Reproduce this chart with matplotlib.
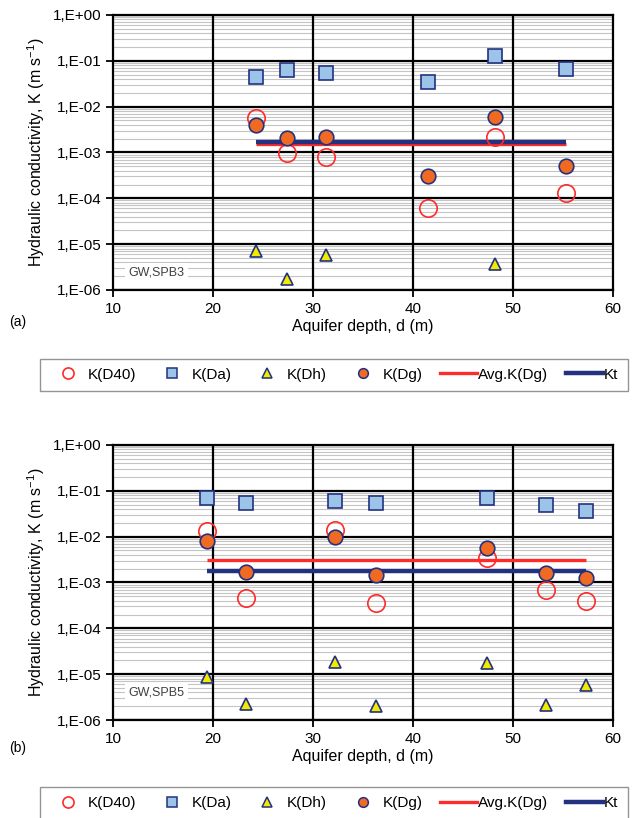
import numpy as np
import matplotlib
matplotlib.use("Agg")
import matplotlib.pyplot as plt
from matplotlib.ticker import FixedLocator, FuncFormatter, NullFormatter
from matplotlib.lines import Line2D

plt.rcParams['font.family'] = ['Liberation Sans', 'DejaVu Sans']

# ---- data ----
# (a) GW, SPB3
depth_a = [24.3, 27.4, 31.3, 41.5, 48.2, 55.3]
kd40_a = [5.6e-3, 9.9e-4, 8.0e-4, 6.2e-5, 2.2e-3, 1.28e-4]
kda_a = [0.0446, 0.0636, 0.0546, 0.034, 0.127, 0.067]
kdg_a = [4.0e-3, 2.1e-3, 2.15e-3, 3.0e-4, 5.9e-3, 5.0e-4]
depth_dh_a = [24.3, 27.4, 31.3, 48.2]
kdh_a = [7.0e-6, 1.72e-6, 5.7e-6, 3.75e-6]
avg_a = 1.54e-3
kt_a = 1.7e-3

# (b) GW, SPB5
depth_b = [19.4, 23.3, 32.2, 36.3, 47.4, 53.3, 57.3]
kd40_b = [1.34e-2, 4.7e-4, 1.41e-2, 3.5e-4, 3.5e-3, 7.0e-4, 3.85e-4]
kda_b = [0.0703, 0.0537, 0.0604, 0.0537, 0.0703, 0.0493, 0.037]
kdg_b = [8.1e-3, 1.7e-3, 9.7e-3, 1.47e-3, 5.6e-3, 1.62e-3, 1.24e-3]
kdh_b = [8.6e-6, 2.2e-6, 1.84e-5, 2.03e-6, 1.78e-5, 2.15e-6, 5.7e-6]
avg_b = 3.03e-3
kt_b = 1.8e-3

labels = ['K(D40)', 'K(Da)', 'K(Dh)', 'K(Dg)', 'Avg.K(Dg)', 'Kt']
yticks = [1e-6, 1e-5, 1e-4, 1e-3, 1e-2, 1e-1, 1e0]

RED = '#ff2a2a'
NAVY = '#23317f'
LBLUE = '#9cc3e8'
YEL = '#f2ea00'
ORANGE = '#f06a22'


def efmt(v, pos):
    e = int(round(np.log10(v)))
    return '1,E' + ('+' if e >= 0 else '-') + '%02d' % abs(e)


def panel(ax, d, k40, kda, kdg, ddh, kdh, avg, kt, tag, tagy):
    ax.set_yscale('log')
    ax.set_xlim(10, 60)
    ax.set_ylim(1e-6, 1)
    minor = [m * 10.0 ** e for e in range(-6, 0) for m in range(2, 10)]
    for v in minor:
        ax.axhline(v, color='#c4c4c4', lw=0.8, zorder=0)
    for v in yticks:
        ax.axhline(v, color='black', lw=1.6, zorder=1)
    for v in [20, 30, 40, 50]:
        ax.axvline(v, color='black', lw=1.6, zorder=1)
    ax.yaxis.set_major_locator(FixedLocator(yticks))
    ax.yaxis.set_major_formatter(FuncFormatter(efmt))
    ax.yaxis.set_minor_locator(FixedLocator([]))
    ax.yaxis.set_minor_formatter(NullFormatter())
    ax.set_xticks([10, 20, 30, 40, 50, 60])
    ax.tick_params(axis='both', direction='out', length=5, width=1.3, labelsize=11)
    for s in ax.spines.values():
        s.set_linewidth(1.6)

    x0, x1 = d[0], d[-1]
    ax.plot([x0, x1], [avg, avg], color=RED, lw=2.4, zorder=3, solid_capstyle='butt')
    ax.plot([x0, x1], [kt, kt], color=NAVY, lw=3.2, zorder=3, solid_capstyle='butt')

    ax.plot(d, kda, 's', ms=10, mfc=LBLUE, mec=NAVY, mew=1.2, zorder=4)
    ax.plot(ddh, kdh, '^', ms=8.5, mfc=YEL, mec=NAVY, mew=1.2, zorder=4)
    ax.plot(d, k40, 'o', ms=12.5, mfc='none', mec=RED, mew=1.2, zorder=5)
    ax.plot(d, kdg, 'o', ms=10.5, mfc=ORANGE, mec=NAVY, mew=1.2, zorder=6)

    ax.text(11.5, tagy, tag, fontsize=9, color='#404040', va='center', ha='left', zorder=2,
            bbox=dict(facecolor='white', edgecolor='none', pad=2.5))
    ax.set_xlabel('Aquifer depth, d (m)', fontsize=11.5, labelpad=2)
    ax.set_ylabel(r'Hydraulic conductivity, K (m s$^{\mathregular{-1}}$)', fontsize=11.5, labelpad=4)


fig = plt.figure(figsize=(6.36, 8.18), dpi=100)
ax1 = fig.add_axes([0.1777, 0.6455, 0.7862, 0.3362])
ax2 = fig.add_axes([0.1777, 0.1198, 0.7862, 0.3362])

panel(ax1, depth_a, kd40_a, kda_a, kdg_a, depth_dh_a, kdh_a, avg_a, kt_a, 'GW,SPB3', 2.4e-6)
panel(ax2, depth_b, kd40_b, kda_b, kdg_b, depth_b, kdh_b, avg_b, kt_b, 'GW,SPB5', 3.9e-6)

fig.text(0.014, 1 - 322 / 818, '(a)', fontsize=10, va='center')
fig.text(0.014, 1 - 748 / 818, '(b)', fontsize=10, va='center')

handles = [
    Line2D([], [], ls='none', marker='o', ms=8, mfc='none', mec=RED, mew=1.2),
    Line2D([], [], ls='none', marker='s', ms=7, mfc=LBLUE, mec=NAVY, mew=1.1),
    Line2D([], [], ls='none', marker='^', ms=6.5, mfc=YEL, mec=NAVY, mew=1.1),
    Line2D([], [], ls='none', marker='o', ms=7, mfc=ORANGE, mec=NAVY, mew=1.1),
    Line2D([], [], color=RED, lw=2.4),
    Line2D([], [], color=NAVY, lw=3.2),
]

for y0 in [1 - 391 / 818, -0.002]:
    leg = fig.legend(handles, labels, loc='lower left', bbox_to_anchor=(0.063, y0, 0.924, 0.05),
                     mode='expand', ncol=6, fontsize=11, frameon=True, fancybox=False,
                     handlelength=2.4, handletextpad=0.1, columnspacing=0.6, borderaxespad=0,
                     borderpad=0.6)
    leg.get_frame().set_edgecolor('#7a7a7a')
    leg.get_frame().set_linewidth(1.0)

fig.savefig('out.png', dpi=100)
